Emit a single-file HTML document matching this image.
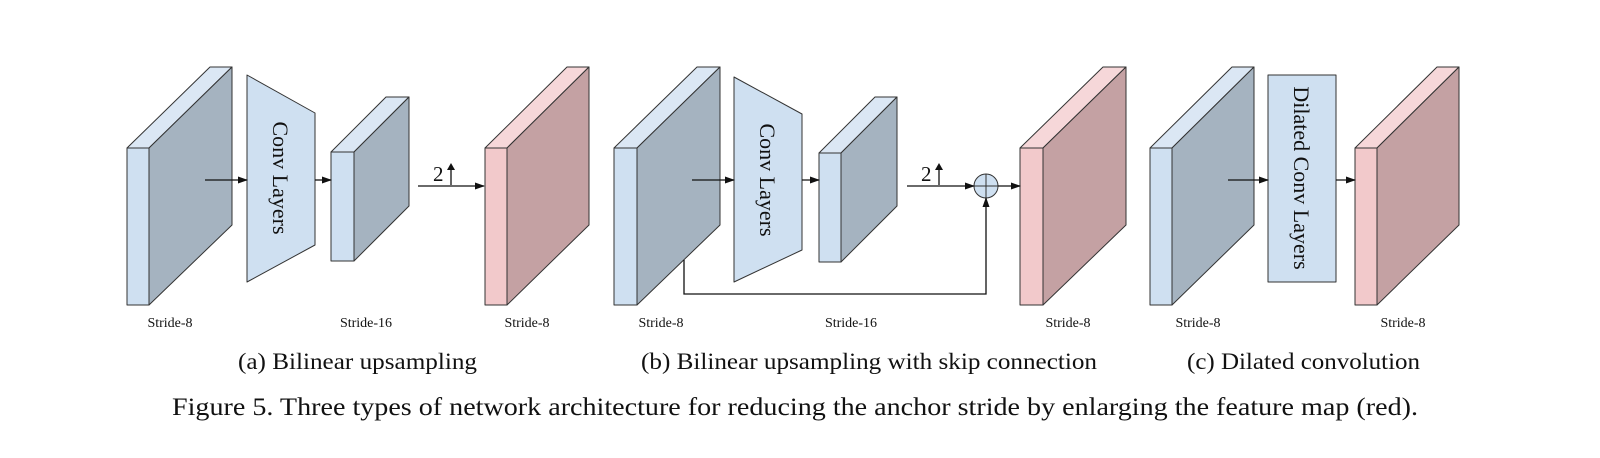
<!DOCTYPE html>
<html><head><meta charset="utf-8"><style>
html,body{margin:0;padding:0;background:#fff;}
svg{display:block;}
text{font-family:"Liberation Serif",serif;fill:#111;}
</style></head><body>
<svg width="1600" height="458" viewBox="0 0 1600 458" xmlns="http://www.w3.org/2000/svg">
<defs>
<marker id="ah" markerWidth="10" markerHeight="8" refX="9" refY="4" orient="auto" markerUnits="userSpaceOnUse">
<path d="M0,0.5 L10,4 L0,7.5 Z" fill="#111"/>
</marker>
</defs>
<g stroke="#333" stroke-width="1" stroke-linejoin="round">
<polygon points="127,148 149,148 232,67 210,67" fill="#dbe7f4"/>
<polygon points="149,148 232,67 232,225 149,305" fill="#a5b3c0"/>
<rect x="127" y="148" width="22" height="157" fill="#cfe0f1"/>
<polygon points="247,75 315,113 315,245 247,282" fill="#cfe0f1"/>
<polygon points="331,152 354,152 409,97 386,97" fill="#dbe7f4"/>
<polygon points="354,152 409,97 409,206 354,261" fill="#a5b3c0"/>
<rect x="331" y="152" width="23" height="109" fill="#cfe0f1"/>
<polygon points="485,148 507,148 589,67 567,67" fill="#f6d7d9"/>
<polygon points="507,148 589,67 589,225 507,305" fill="#c4a1a3"/>
<rect x="485" y="148" width="22" height="157" fill="#f2c9cb"/>

<polygon points="614,148 637,148 720,67 697,67" fill="#dbe7f4"/>
<polygon points="637,148 720,67 720,225 637,305" fill="#a5b3c0"/>
<rect x="614" y="148" width="23" height="157" fill="#cfe0f1"/>
<polygon points="734,77 802,114 802,250 734,282" fill="#cfe0f1"/>
<polygon points="819,153 841,153 897,97 875,97" fill="#dbe7f4"/>
<polygon points="841,153 897,97 897,206 841,262" fill="#a5b3c0"/>
<rect x="819" y="153" width="22" height="109" fill="#cfe0f1"/>
<polygon points="1020,148 1043,148 1126,67 1103,67" fill="#f6d7d9"/>
<polygon points="1043,148 1126,67 1126,225 1043,305" fill="#c4a1a3"/>
<rect x="1020" y="148" width="23" height="157" fill="#f2c9cb"/>

<polygon points="1150,148 1172,148 1254,67 1232,67" fill="#dbe7f4"/>
<polygon points="1172,148 1254,67 1254,225 1172,305" fill="#a5b3c0"/>
<rect x="1150" y="148" width="22" height="157" fill="#cfe0f1"/>
<rect x="1268" y="75" width="68" height="207" fill="#cfe0f1"/>
<polygon points="1355,148 1377,148 1459,67 1437,67" fill="#f6d7d9"/>
<polygon points="1377,148 1459,67 1459,225 1377,305" fill="#c4a1a3"/>
<rect x="1355" y="148" width="22" height="157" fill="#f2c9cb"/>

<circle cx="986" cy="186" r="12" fill="#cfe0f1"/>
<line x1="974" y1="186" x2="998" y2="186"/>
<line x1="986" y1="174" x2="986" y2="198"/>
</g>

<g stroke="#111" stroke-width="1.3" fill="none">
<line x1="205" y1="180" x2="247" y2="180" marker-end="url(#ah)"/>
<line x1="315" y1="180" x2="331" y2="180" marker-end="url(#ah)"/>
<line x1="418" y1="186" x2="484" y2="186" marker-end="url(#ah)"/>
<line x1="692" y1="180" x2="734" y2="180" marker-end="url(#ah)"/>
<line x1="802" y1="180" x2="819" y2="180" marker-end="url(#ah)"/>
<line x1="907" y1="186" x2="974" y2="186" marker-end="url(#ah)"/>
<line x1="998" y1="186" x2="1020" y2="186" marker-end="url(#ah)"/>
<polyline points="684,260 684,294 986,294 986,198" marker-end="url(#ah)"/>
<line x1="1228" y1="180" x2="1268" y2="180" marker-end="url(#ah)"/>
<line x1="1336" y1="180" x2="1355" y2="180" marker-end="url(#ah)"/>
<line x1="451" y1="185" x2="451" y2="166"/>
<line x1="939" y1="185" x2="939" y2="166"/>
</g>
<g fill="#111">
<path d="M447,170 L451,163 L455,170 Z"/>
<path d="M935,170 L939,163 L943,170 Z"/>
</g>
<text x="433" y="181" font-size="21">2</text>
<text x="921" y="181" font-size="21">2</text>

<text transform="translate(273,178) rotate(90)" font-size="22" text-anchor="middle">Conv Layers</text>
<text transform="translate(760,180) rotate(90)" font-size="22" text-anchor="middle">Conv Layers</text>
<text transform="translate(1294,178) rotate(90)" font-size="22" text-anchor="middle">Dilated Conv Layers</text>

<g font-size="14" text-anchor="middle">
<text x="170" y="327">Stride-8</text>
<text x="366" y="327">Stride-16</text>
<text x="527" y="327">Stride-8</text>
<text x="661" y="327">Stride-8</text>
<text x="851" y="327">Stride-16</text>
<text x="1068" y="327">Stride-8</text>
<text x="1198" y="327">Stride-8</text>
<text x="1403" y="327">Stride-8</text>
</g>
<g font-size="23">
<text x="238" y="369" textLength="239" lengthAdjust="spacingAndGlyphs">(a)  Bilinear upsampling</text>
<text x="641" y="369" textLength="456" lengthAdjust="spacingAndGlyphs">(b)  Bilinear upsampling with skip connection</text>
<text x="1187" y="369" textLength="233" lengthAdjust="spacingAndGlyphs">(c)  Dilated convolution</text>
</g>
<text x="172" y="415" font-size="25" textLength="1246" lengthAdjust="spacingAndGlyphs">Figure 5. Three types of network architecture for reducing the anchor stride by enlarging the feature map (red).</text>
</svg>
</body></html>
